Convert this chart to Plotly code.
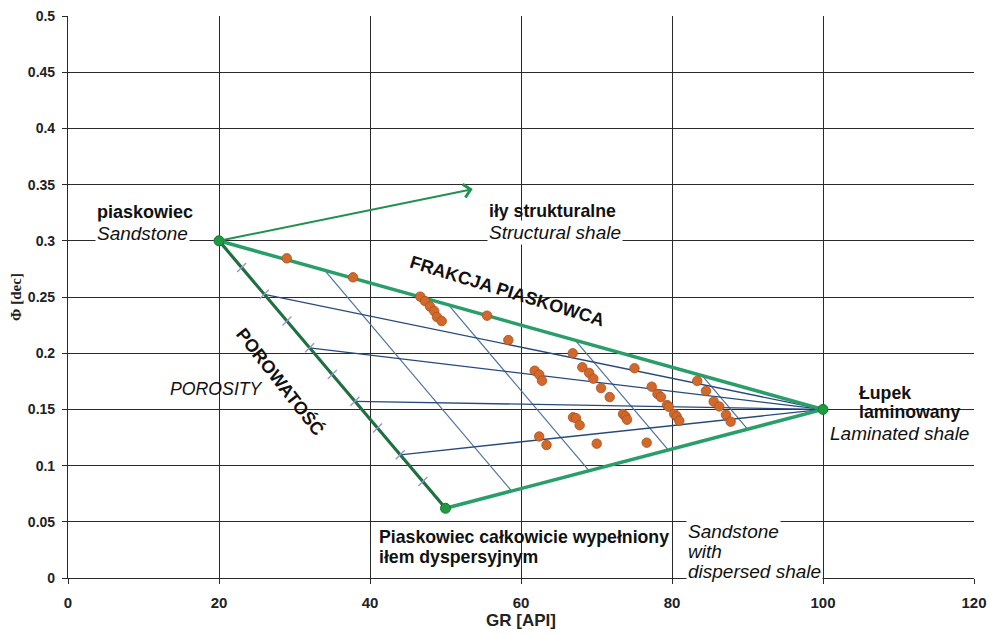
import plotly.graph_objects as go

# ---- data ----
# Triangle vertices (GR [API], porosity [dec])
sand_pt = (20, 0.30)          # clean sandstone
shale_pt = (100, 0.15)        # laminated shale
disp_pt = (50, 0.062)         # sandstone fully filled with dispersed shale
arrow_head = (53.6, 0.346)    # structural shale direction

# fractions along the sandstone -> dispersed edge
tick_fractions = [0.1, 0.2, 0.3, 0.4, 0.5, 0.6, 0.7, 0.8, 0.9]
porosity_fractions = [0.2, 0.4, 0.6, 0.8]
# sand-fraction lines (fractions along top and bottom edges)
sand_fractions = [0.175, 0.38, 0.59, 0.80]

gr_pts = [28.97, 37.75, 46.66, 47.28, 47.95, 48.50, 48.87, 49.50, 55.50, 58.32,
          61.81, 62.42, 62.78, 66.85, 68.12, 69.03, 69.58, 70.60, 71.75, 75.03,
          77.31, 78.08, 78.54, 79.34, 79.56, 80.29, 80.62, 80.97, 83.34, 84.50,
          85.52, 86.26, 87.15, 87.77, 66.89, 67.28, 67.77, 73.51, 73.84, 74.04,
          62.41, 63.38, 70.03, 76.65]
phi_pts = [0.2844, 0.2675, 0.2503, 0.2464, 0.2415, 0.2375, 0.2322, 0.2286, 0.2334, 0.2117,
           0.1844, 0.1810, 0.1755, 0.1999, 0.1875, 0.1824, 0.1773, 0.1690, 0.1610, 0.1866,
           0.1702, 0.1637, 0.1610, 0.1539, 0.1524, 0.1459, 0.1437, 0.1399, 0.1753, 0.1664,
           0.1569, 0.1526, 0.1452, 0.1391, 0.1430, 0.1422, 0.1359, 0.1459, 0.1437, 0.1408,
           0.1259, 0.1183, 0.1195, 0.1204]

x_ticks = [0, 20, 40, 60, 80, 100, 120]
y_ticks = [0, 0.05, 0.1, 0.15, 0.2, 0.25, 0.3, 0.35, 0.4, 0.45, 0.5]
y_ticklabels = ["0", "0.05", "0.1", "0.15", "0.2", "0.25", "0.3", "0.35", "0.4", "0.45", "0.5"]


def lerp(a, b, t):
    return (a[0] + (b[0] - a[0]) * t, a[1] + (b[1] - a[1]) * t)


fig = go.Figure()

# sand-fraction lines (parallel to the porosity edge)
for f in sand_fractions:
    p0 = lerp(sand_pt, shale_pt, f)
    p1 = lerp(disp_pt, shale_pt, f)
    fig.add_trace(go.Scatter(x=[p0[0], p1[0]], y=[p0[1], p1[1]], mode="lines",
                             line=dict(color="#4f729c", width=1.2), hoverinfo="skip",
                             showlegend=False))

# porosity lines to laminated shale point
for f in porosity_fractions:
    p0 = lerp(sand_pt, disp_pt, f)
    fig.add_trace(go.Scatter(x=[p0[0], shale_pt[0]], y=[p0[1], shale_pt[1]], mode="lines",
                             line=dict(color="#274a7c", width=1.3), hoverinfo="skip",
                             showlegend=False))

# triangle edges
fig.add_trace(go.Scatter(x=[sand_pt[0], shale_pt[0], disp_pt[0]],
                         y=[sand_pt[1], shale_pt[1], disp_pt[1]], mode="lines",
                         line=dict(color="#2a9e68", width=3.5), hoverinfo="skip",
                         showlegend=False))
fig.add_trace(go.Scatter(x=[sand_pt[0], disp_pt[0]], y=[sand_pt[1], disp_pt[1]], mode="lines",
                         line=dict(color="#1e7040", width=3.2), hoverinfo="skip",
                         showlegend=False))

# tick marks on porosity edge
tx = [lerp(sand_pt, disp_pt, f)[0] for f in tick_fractions]
ty = [lerp(sand_pt, disp_pt, f)[1] for f in tick_fractions]
fig.add_trace(go.Scatter(x=tx, y=ty, mode="markers",
                         marker=dict(symbol="line-ne", size=9,
                                     line=dict(color="#9c8fd2", width=1.3)),
                         hoverinfo="skip", showlegend=False))

# data points
fig.add_trace(go.Scatter(x=gr_pts, y=phi_pts, mode="markers",
                         marker=dict(size=9.5, color="#d2692a",
                                     line=dict(color="#a8501f", width=0.8)),
                         showlegend=False))

# vertex markers
fig.add_trace(go.Scatter(x=[sand_pt[0], shale_pt[0], disp_pt[0]],
                         y=[sand_pt[1], shale_pt[1], disp_pt[1]], mode="markers",
                         marker=dict(size=10, color="#1f9a40",
                                     line=dict(color="#157a30", width=1)),
                         hoverinfo="skip", showlegend=False))

# structural shale arrow
fig.add_annotation(x=arrow_head[0], y=arrow_head[1], ax=sand_pt[0], ay=sand_pt[1],
                   xref="x", yref="y", axref="x", ayref="y", text="",
                   showarrow=True, arrowhead=4, arrowsize=1.3, arrowwidth=2,
                   arrowcolor="#22914f")

LBL = "Liberation Sans, Arial, sans-serif"


def label(x, y, text, size=18, xanchor="center", bg=None, angle=0):
    fig.add_annotation(x=x, y=y, xref="x", yref="y", text=text, showarrow=False,
                       xanchor=xanchor, yanchor="middle", textangle=angle,
                       font=dict(family=LBL, size=size, color="#111111"),
                       bgcolor=bg, borderpad=1)


label(10.2, 0.3256, "<b>piaskowiec</b>", size=18)
label(9.9, 0.3065, "<i>Sandstone</i>", size=19, bg="white")
label(64.2, 0.3265, "<b>iły strukturalne</b>", size=17.7)
label(64.5, 0.3078, "<i>Structural shale</i>", size=19, bg="white")
label(58.1, 0.2553, "<b>FRAKCJA PIASKOWCA</b>", angle=17)
label(28.1, 0.1744, "<b>POROWATOŚĆ</b>", angle=52)
label(19.7, 0.168, "<i>POROSITY</i>", size=17.7)
label(104.5, 0.1646, "<b>Łupek</b>", xanchor="left", size=17.7)
label(104.5, 0.1477, "<b>laminowany</b>", xanchor="left", size=17.7)
label(110.1, 0.129, "<i>Laminated shale</i>", size=19)
label(40.9, 0.0365, "<b>Piaskowiec całkowicie wypełniony</b>", xanchor="left", size=17.7)
label(40.9, 0.0187, "<b>iłem dyspersyjnym</b>", xanchor="left", size=17.7)
label(81.9, 0.0418, "<i>Sandstone</i>", xanchor="left", bg="white", size=19)
label(81.9, 0.0240, "<i>with</i>", xanchor="left", bg="white", size=19)
label(81.9, 0.0062, "<i>dispersed shale</i>", xanchor="left", bg="white", size=19)

TICKF = dict(family="Liberation Sans Narrow, Arial Narrow, Liberation Sans, Arial", size=15,
             color="#222222", weight="bold")

fig.update_xaxes(range=[0, 120], tickvals=x_ticks, ticktext=[str(v) for v in x_ticks],
                 automargin=False, ticklabeloverflow="allow",
                 showgrid=True, gridcolor="#2a2a2a", gridwidth=1,
                 showline=True, linecolor="#2a2a2a", linewidth=1.2,
                 ticks="outside", ticklen=5, tickcolor="#2a2a2a",
                 ticklabelstandoff=6,
                 zeroline=False, tickfont=TICKF,
                 title=dict(text="<b>GR [API]</b>", standoff=2,
                            font=dict(family="Liberation Sans Narrow, Arial Narrow, Liberation Sans",
                                      size=17, color="#222222")))
fig.update_yaxes(range=[0, 0.5], tickvals=y_ticks, ticktext=y_ticklabels,
                 automargin=False, ticklabeloverflow="allow",
                 showgrid=True, gridcolor="#2a2a2a", gridwidth=1,
                 showline=True, linecolor="#2a2a2a", linewidth=1.2,
                 ticks="outside", ticklen=5, tickcolor="#2a2a2a",
                 ticklabelstandoff=4,
                 zeroline=False, tickfont=dict(family=LBL, size=14, color="#222222", weight="bold"),
                 title=dict(text="<b>Φ [dec]</b>", standoff=2,
                            font=dict(family="Liberation Serif, Times New Roman, serif",
                                      size=15, color="#222222")))

fig.update_layout(width=990, height=634, margin=dict(l=68, r=16, t=16, b=56),
                  plot_bgcolor="white", paper_bgcolor="white", showlegend=False)

# remove the default page margin so the 990x634 figure fills the window exactly
fig.write_html("out.html", config={"displayModeBar": False},
               post_script="document.body.style.margin='0';document.body.style.overflow='hidden';")
